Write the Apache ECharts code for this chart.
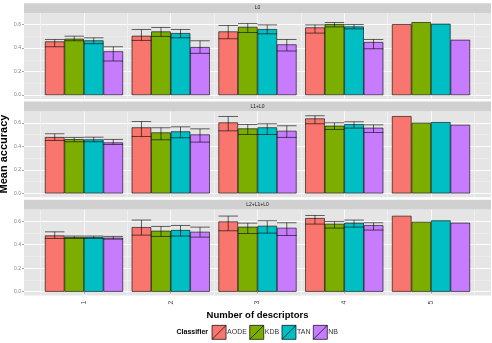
<!DOCTYPE html>
<html>
<head>
<meta charset="utf-8">
<script src="https://cdn.jsdelivr.net/npm/echarts@6/dist/echarts.min.js"></script>
<style>
  html, body { margin: 0; padding: 0; background: #fff; }
  #main { width: 492px; height: 343px; }
</style>
</head>
<body>
<div id="main"></div>
<script>
var descriptors = ["1", "2", "3", "4", "5"];
var classifiers = ["AODE", "KDB", "TAN", "NB"];
var panelNames = ["L0", "L1+L0", "L2+L1+L0"];

// rows: AODE, KDB, TAN, NB ; columns: descriptors 1..5
var meanL0 = [
  [0.456, 0.504, 0.541, 0.575, 0.603],
  [0.479, 0.541, 0.580, 0.603, 0.620],
  [0.465, 0.527, 0.561, 0.583, 0.606],
  [0.372, 0.408, 0.431, 0.451, 0.470]
];
var lowL0 = [
  [0.411, 0.465, 0.479, 0.527, null],
  [0.462, 0.499, 0.532, 0.580, null],
  [0.437, 0.487, 0.521, 0.563, null],
  [0.290, 0.355, 0.375, 0.394, null]
];
var highL0 = [
  [0.473, 0.558, 0.592, 0.597, null],
  [0.501, 0.575, 0.608, 0.617, null],
  [0.487, 0.558, 0.597, 0.600, null],
  [0.411, 0.462, 0.473, 0.473, null]
];

var meanL1 = [
  [0.479, 0.561, 0.603, 0.637, 0.657],
  [0.461, 0.518, 0.552, 0.575, 0.600],
  [0.459, 0.527, 0.561, 0.589, 0.606],
  [0.433, 0.501, 0.532, 0.558, 0.583]
];
var lowL1 = [
  [0.450, 0.484, 0.532, 0.592, null],
  [0.439, 0.456, 0.501, 0.544, null],
  [0.439, 0.473, 0.501, 0.555, null],
  [0.416, 0.436, 0.476, 0.518, null]
];
var highL1 = [
  [0.507, 0.611, 0.654, 0.660, null],
  [0.476, 0.558, 0.586, 0.600, null],
  [0.478, 0.566, 0.592, 0.609, null],
  [0.459, 0.549, 0.575, 0.583, null]
];

var meanL2 = [
  [0.478, 0.549, 0.597, 0.626, 0.645],
  [0.464, 0.518, 0.552, 0.577, 0.594],
  [0.464, 0.524, 0.560, 0.586, 0.606],
  [0.459, 0.509, 0.543, 0.566, 0.586]
];
var lowL2 = [
  [0.453, 0.481, 0.518, 0.575, null],
  [0.453, 0.470, 0.495, 0.541, null],
  [0.453, 0.473, 0.498, 0.549, null],
  [0.447, 0.464, 0.478, 0.524, null]
];
var highL2 = [
  [0.509, 0.609, 0.643, 0.648, null],
  [0.473, 0.555, 0.583, 0.597, null],
  [0.473, 0.563, 0.603, 0.609, null],
  [0.470, 0.549, 0.586, 0.586, null]
];

var means = [meanL0, meanL1, meanL2];
var lows = [lowL0, lowL1, lowL2];
var highs = [highL0, highL1, highL2];

var colors = ["#F8766D", "#7CAE00", "#00BFC4", "#C77CFF"];
var font = "Liberation Sans";

// layout of the facets
var yMin = -0.033, yMax = 0.698;
var panelTop = [13, 111.3, 209.6];
var panelH = 86;
var stripH = 9.8;
var pxPerUnit = panelH / (yMax - yMin);

var grid = [], xAxis = [], yAxis = [], series = [], graphic = [];

panelTop.forEach(function (top, p) {
  var g = grid.length;
  var last = p === panelTop.length - 1;

  // grey panel
  grid.push({ left: 24, width: 467, top: top, height: panelH, show: true, backgroundColor: "#e5e5e5", borderWidth: 0 });
  // horizontal grid lines 0 .. 0.6
  grid.push({ left: 24, width: 467, top: top + (yMax - 0.6) * pxPerUnit, height: 0.6 * pxPerUnit });
  // bars
  grid.push({ left: 40.6, width: 433.8, top: top, height: panelH });

  xAxis.push({ gridIndex: g, type: "value", show: false });
  yAxis.push({ gridIndex: g, type: "value", show: false });

  xAxis.push({ gridIndex: g + 1, type: "value", show: false });
  yAxis.push({
    gridIndex: g + 1,
    type: "value",
    min: 0,
    max: 0.6,
    interval: 0.2,
    axisLine: { show: false },
    axisTick: { show: true, length: 2, lineStyle: { color: "#7f7f7f", width: 0.7 } },
    axisLabel: {
      fontSize: 5,
      color: "#7f7f7f",
      margin: 3,
      fontFamily: font,
      formatter: function (v) { return v.toFixed(1); }
    },
    splitLine: { show: true, lineStyle: { color: "#ffffff", width: 0.9 } },
    minorTick: { show: false, splitNumber: 2 },
    minorSplitLine: { show: true, lineStyle: { color: "#f2f2f2", width: 0.5 } }
  });

  var catX = xAxis.length;
  xAxis.push({
    gridIndex: g + 2,
    type: "category",
    data: descriptors,
    axisLine: { show: false },
    axisTick: { show: last, alignWithLabel: true, length: 2, lineStyle: { color: "#7f7f7f", width: 0.7 } },
    axisLabel: { show: last, rotate: 90, fontSize: 7, color: "#4d4d4d", margin: 5, fontFamily: font },
    splitLine: { show: false },
    name: last ? "Number of descriptors" : "",
    nameLocation: "middle",
    nameGap: 14.5,
    nameTextStyle: { fontWeight: "bold", fontSize: 9.5, color: "#000", fontFamily: font }
  });
  // vertical grid lines: boundaries and centres of each category
  xAxis.push({
    gridIndex: g + 2,
    type: "value",
    min: 0,
    max: 10,
    interval: 1,
    axisLine: { show: false },
    axisTick: { show: false },
    axisLabel: { show: false },
    splitLine: { show: true, lineStyle: { color: ["#f2f2f2", "#ffffff"], width: 0.8 } }
  });
  var barY = yAxis.length;
  yAxis.push({ gridIndex: g + 2, type: "value", min: yMin, max: yMax, show: false });

  classifiers.forEach(function (name, k) {
    series.push({
      name: name,
      type: "bar",
      xAxisIndex: catX,
      yAxisIndex: barY,
      data: means[p][k],
      barGap: "0%",
      barCategoryGap: "10%",
      itemStyle: { color: colors[k], borderColor: "#000", borderWidth: 0.6 },
      z: 2
    });
  });

  var errData = [];
  classifiers.forEach(function (name, k) {
    descriptors.forEach(function (d, i) {
      if (lows[p][k][i] != null) errData.push([i, k, lows[p][k][i], highs[p][k][i]]);
    });
  });
  series.push({
    type: "custom",
    xAxisIndex: catX,
    yAxisIndex: barY,
    silent: true,
    z: 3,
    encode: { x: 0, y: [2, 3] },
    data: errData,
    renderItem: function (params, api) {
      var i = api.value(0), k = api.value(1);
      var lo = api.coord([i, api.value(2)]);
      var hi = api.coord([i, api.value(3)]);
      var barW = api.size([1, 0])[0] * 0.9 / 4;
      var x = lo[0] + (k - 1.5) * barW;
      var half = barW / 2;
      var st = { stroke: "#000", lineWidth: 0.6 };
      return {
        type: "group",
        children: [
          { type: "line", shape: { x1: x, y1: lo[1], x2: x, y2: hi[1] }, style: st },
          { type: "line", shape: { x1: x - half, y1: hi[1], x2: x + half, y2: hi[1] }, style: st },
          { type: "line", shape: { x1: x - half, y1: lo[1], x2: x + half, y2: lo[1] }, style: st }
        ]
      };
    }
  });

  // facet strip
  graphic.push({ type: "rect", shape: { x: 24, y: top - stripH, width: 467, height: stripH }, style: { fill: "#d0d0d0" }, silent: true });
  graphic.push({
    type: "text", x: 257.5, y: top - stripH / 2, silent: true,
    style: { text: panelNames[p], fill: "#1a1a1a", font: "5px '" + font + "'", align: "center", verticalAlign: "middle" }
  });
});

graphic.push({
  type: "text", x: 4, y: 154, rotation: Math.PI / 2, silent: true,
  style: { text: "Mean accuracy", fill: "#000", font: "bold 11px '" + font + "'", align: "center", verticalAlign: "middle" }
});
graphic.push({
  type: "text", x: 208, y: 332, silent: true,
  style: { text: "Classifier", fill: "#000", font: "bold 7px '" + font + "'", align: "right", verticalAlign: "middle" }
});

var myChart = echarts.init(document.getElementById("main"));
myChart.setOption({
  animation: false,
  backgroundColor: "#fff",
  textStyle: { fontFamily: font },
  grid: grid,
  xAxis: xAxis,
  yAxis: yAxis,
  legend: {
    left: 211.7,
    top: 325,
    padding: 0,
    itemWidth: 14,
    itemHeight: 14,
    itemGap: 2.5,
    selectedMode: false,
    icon: "path://M0,0L14,0L14,14L0,14Z M0,14L14,0",
    data: classifiers,
    itemStyle: { borderColor: "#000", borderWidth: 0.7 },
    textStyle: { fontSize: 7, color: "#333", fontFamily: font, padding: [0, 0, 0, -4] }
  },
  graphic: graphic,
  series: series
});
</script>
</body>
</html>
